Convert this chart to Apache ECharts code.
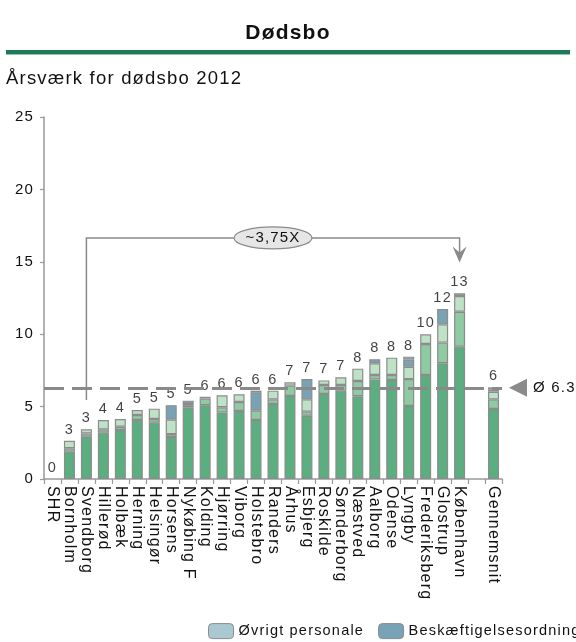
<!DOCTYPE html>
<html>
<head>
<meta charset="utf-8">
<script src="https://cdn.jsdelivr.net/npm/echarts@6/dist/echarts.min.js"></script>
<style>
  html, body { margin: 0; padding: 0; background: #fff; }
  #chart { width: 576px; height: 642px; }
</style>
</head>
<body>
<div id="chart"></div>
<script>
// Årsværk per retskreds, dødsbo 2012 (stacked by personnel group)
const categories = ['SHR','Bornholm','Svendborg','Hillerød','Holbæk','Herning','Helsingør','Horsens','Nykøbing F','Kolding','Hjørring','Viborg','Holstebro','Randers','Århus','Esbjerg','Roskilde','Sønderborg','Næstved','Aalborg','Odense','Lyngby','Frederiksberg','Glostrup','København','','Gennemsnit'];

const groupA = [0,1.89,2.92,3.2,3.38,4.07,3.89,2.9,4.95,5.1,4.6,4.7,4.07,5.18,5.73,4.37,5.87,6.1,5.71,6.88,6.84,5.04,7.18,7.99,9.14,null,4.83];
const groupB = [0,0.23,0.23,0.23,0.23,0.35,0.25,0.2,0.1,0.45,0.35,0.62,0.65,0.32,0.72,0.28,0.62,0.39,1.06,0.3,0.34,1.86,2.14,1.43,2.41,null,0.67];
const groupC = [0,0.52,0.28,0.64,0.53,0.35,0.72,1.0,0.13,0.13,0.83,0.53,0,0.6,0.23,0.85,0.32,0.53,0.85,0.81,1.2,0.85,0.67,1.26,1.09,null,0.53];
const beskaeftigelse = [0,0,0,0,0,0,0,1.0,0.23,0,0,0,1.27,0,0,1.4,0,0,0,0.28,0,0.5,0,1.06,0,null,0.15];
const oevrigt = [0,0,0,0,0,0,0,0,0,0,0,0,0.11,0,0,0,0,0,0,0,0,0.2,0,0,0.18,null,0.15];

const average = 6.3;
const averageLabel = 'Ø 6.3';
const yTicks = [0, 5, 10, 15, 20, 25];
const ratioLabel = '~3,75X';

const FONT = "'Liberation Sans', Arial, sans-serif";
const BORDER = '#8c8c8c';
const TRACKING = '1.2px';

// Slightly tracked-out lettering: applied to both drawing and measuring so
// ECharts' own text layout stays consistent.
(function () {
  const P = CanvasRenderingContext2D.prototype;
  if (!('letterSpacing' in P)) return;
  const fill = P.fillText;
  const measure = P.measureText;
  P.fillText = function () { this.letterSpacing = TRACKING; return fill.apply(this, arguments); };
  P.measureText = function () { this.letterSpacing = TRACKING; return measure.apply(this, arguments); };
})();

const totals = categories.map((c, i) => {
  if (groupA[i] === null) return null;
  return groupA[i] + groupB[i] + groupC[i] + beskaeftigelse[i] + oevrigt[i];
});

const nz = arr => arr.map(v => (v === 0 ? null : v));

function stackSeries(name, data, color) {
  return {
    name: name,
    type: 'bar',
    stack: 'total',
    barWidth: 11,
    data: nz(data),
    itemStyle: { color: color, borderColor: BORDER, borderWidth: 1.2 },
    emphasis: { disabled: true },
    z: 2
  };
}

const chart = echarts.init(document.getElementById('chart'), null, { renderer: 'canvas' });

const option = {
  animation: false,
  textStyle: { fontFamily: FONT },
  title: {
    text: 'Dødsbo',
    left: 'center',
    top: 17,
    textStyle: { fontSize: 21, fontWeight: 'bold', color: '#111', fontFamily: FONT }
  },
  legend: {
    left: 208,
    top: 623,
    width: 600,
    padding: 0,
    itemWidth: 25,
    itemHeight: 15,
    itemGap: 14,
    data: ['Øvrigt personale', 'Beskæftigelsesordning'],
    textStyle: { fontSize: 14.5, color: '#111', fontFamily: FONT },
    itemStyle: { borderColor: BORDER, borderWidth: 1 }
  },
  grid: { left: 44, right: 74, top: 117, bottom: 163, containLabel: false },
  xAxis: {
    type: 'category',
    data: categories,
    boundaryGap: true,
    axisLine: { lineStyle: { color: '#999', width: 1.5 } },
    axisTick: { show: true, length: 5, lineStyle: { color: '#999', width: 1.2 } },
    axisLabel: {
      interval: 0,
      rotate: -90,
      margin: 7,
      fontSize: 16,
      color: '#111',
      fontFamily: FONT
    }
  },
  yAxis: {
    type: 'value',
    min: yTicks[0],
    max: yTicks[yTicks.length - 1],
    interval: 5,
    splitLine: { show: false },
    axisLine: { show: true, lineStyle: { color: '#999', width: 1.5 } },
    axisTick: { show: true, length: 4, lineStyle: { color: '#999', width: 1.2 } },
    axisLabel: { fontSize: 15, color: '#111', margin: 10, fontFamily: FONT }
  },
  series: [
    stackSeries('Årsværk A', groupA, '#5aae80'),
    stackSeries('Årsværk B', groupB, '#8ecba2'),
    stackSeries('Årsværk C', groupC, '#bde2c6'),
    stackSeries('Beskæftigelsesordning', beskaeftigelse, '#78a3b6'),
    stackSeries('Øvrigt personale', oevrigt, '#aac8d2'),
    {
      name: 'Total',
      type: 'scatter',
      data: totals,
      symbolSize: 0,
      silent: true,
      z: 5,
      label: {
        show: true,
        position: 'top',
        distance: 3,
        fontSize: 14.5,
        color: '#111',
        fontFamily: FONT,
        formatter: p => String(Math.round(p.value))
      },
      markLine: {
        silent: true,
        symbol: 'none',
        z: 10,
        label: { show: false },
        lineStyle: { color: '#8a8a8a', width: 3, type: [20, 8] },
        data: [{ yAxis: average }]
      }
    }
  ]
};

chart.setOption(option);

// Annotations placed from data coordinates
function px(cat, v) {
  return chart.convertToPixel({ xAxisIndex: 0, yAxisIndex: 0 }, [cat, v]);
}
const fromBottom = px('Svendborg', 5.45);
const fromTop = px('Svendborg', 16.65);
const toTop = px('København', 16.65);
const toTip = px('København', 14.95);
const avgY = px('Gennemsnit', average)[1];
const midX = (fromTop[0] + toTop[0]) / 2;

chart.setOption({
  graphic: [
    {
      type: 'rect',
      shape: { x: 6, y: 50, width: 564, height: 4 },
      style: { fill: '#1f7a58' },
      silent: true
    },
    {
      type: 'rect',
      shape: { x: 6, y: 54, width: 564, height: 1 },
      style: { fill: '#8cc7a6' },
      silent: true
    },
    {
      type: 'text',
      left: 6,
      top: 69,
      style: { text: 'Årsværk for dødsbo 2012', fill: '#111', font: '18.5px ' + FONT },
      silent: true
    },
    {
      type: 'polyline',
      shape: { points: [fromBottom, fromTop, toTop, [toTip[0], toTip[1] - 6]] },
      style: { stroke: '#8a8a8a', lineWidth: 1.5, fill: null },
      silent: true,
      z: 20
    },
    {
      type: 'polygon',
      shape: {
        points: [
          [toTip[0], toTip[1]],
          [toTip[0] - 7, toTip[1] - 16],
          [toTip[0], toTip[1] - 10],
          [toTip[0] + 7, toTip[1] - 16]
        ]
      },
      style: { fill: '#8a8a8a' },
      silent: true,
      z: 20
    },
    {
      type: 'ellipse',
      shape: { cx: midX, cy: fromTop[1], rx: 39, ry: 11 },
      style: { fill: '#e6e6e6', stroke: '#8a8a8a', lineWidth: 1.2 },
      silent: true,
      z: 21
    },
    {
      type: 'text',
      x: midX,
      y: fromTop[1],
      style: { text: ratioLabel, font: '15px ' + FONT, fill: '#111', align: 'center', verticalAlign: 'middle' },
      silent: true,
      z: 22
    },
    {
      type: 'polygon',
      shape: { points: [[527, avgY - 9], [527, avgY + 9], [509, avgY]] },
      style: { fill: '#8a8a8a' },
      silent: true,
      z: 20
    },
    {
      type: 'text',
      x: 533,
      y: avgY,
      style: { text: averageLabel, font: '15px ' + FONT, fill: '#111', align: 'left', verticalAlign: 'middle' },
      silent: true,
      z: 20
    }
  ]
});
</script>
</body>
</html>
